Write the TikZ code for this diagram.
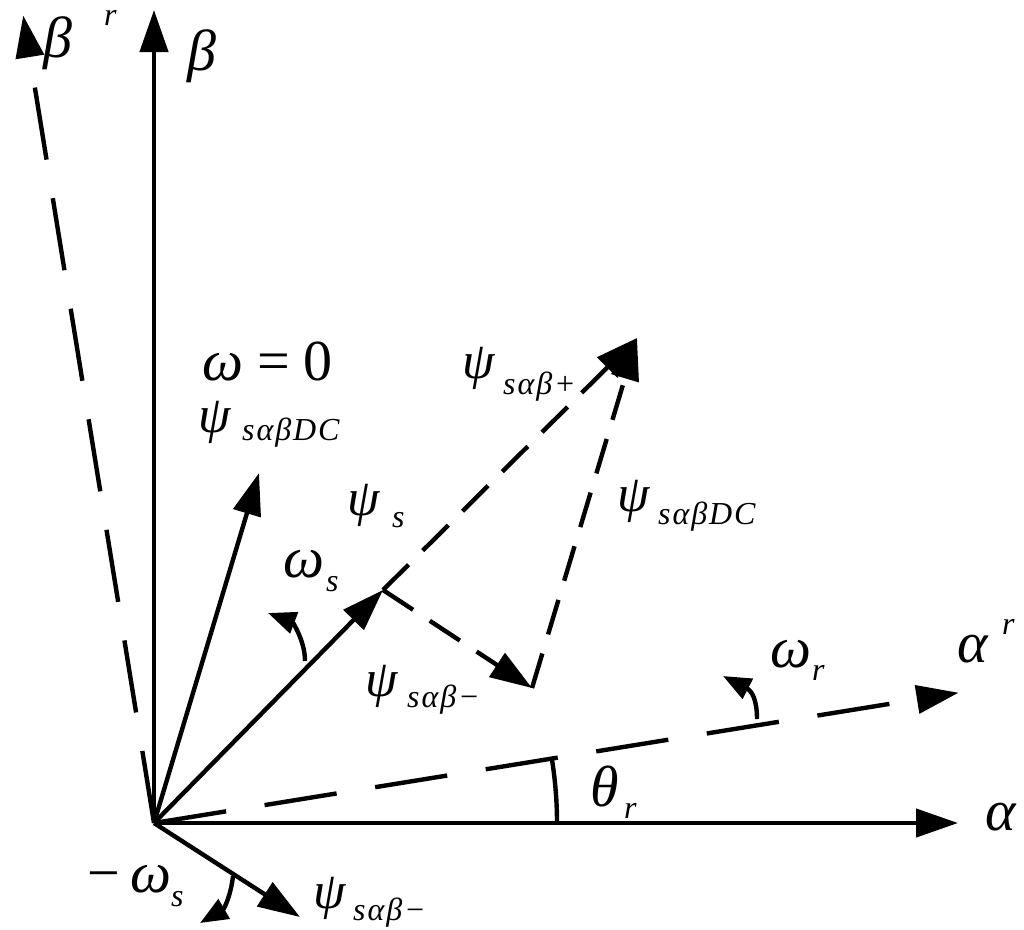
\documentclass[tikz,border=0pt]{standalone}
\usepackage{fontspec}
\setmainfont{Liberation Serif}
\usetikzlibrary{arrows.meta}
\newcommand\Gk[1]{{\fontsize{52}{52}\selectfont\itshape #1}}
\newcommand\Bg[1]{{\fontsize{58}{58}\selectfont\itshape #1}}
\newcommand\Sb[1]{{\fontsize{32}{32}\selectfont\itshape\addfontfeatures{LetterSpace=6} #1}}
\begin{document}
\begin{tikzpicture}[x=1pt,y=-1pt,
  ln/.style={line width=4.4pt},
  tip/.style={-{Triangle[length=42pt,width=28pt]}},
  smalltip/.style={-{Triangle[length=28pt,width=22pt]}},
  longdash/.style={dash pattern=on 73pt off 39pt},
  shortdash/.style={dash pattern=on 36pt off 20pt},
  lbl/.style={inner sep=0pt, anchor=base west}]
\useasboundingbox (0,0) rectangle (1024,929);
% points
\coordinate (O) at (154,823);
\coordinate (A) at (958,823);
\coordinate (B) at (154,10);
\coordinate (Ar) at (958.5,692.7);
\coordinate (Br) at (23.2,15.5);
\coordinate (P1) at (383,590);
\coordinate (P2) at (532,688);
\coordinate (P3) at (637,338);
\coordinate (D) at (259,473);
\coordinate (M) at (300,917);
\coordinate (T0) at (557,823);
\coordinate (W1) at (305,661);
\coordinate (W2) at (268,613);
\coordinate (R1) at (757,719);
\coordinate (R2) at (723,676);
\coordinate (N1) at (233,876);
\coordinate (N2) at (200,923);
% axes
\draw[ln,tip] (O) -- (A);
\draw[ln,tip] (O) -- (B);
\draw[ln,longdash,tip] (O) -- (Ar);
\draw[ln,longdash,tip] (O) -- (Br);
% vectors
\draw[ln,tip] (O) -- (P1);
\draw[ln,tip] (O) -- (D);
\draw[ln,tip] (O) -- (M);
\draw[ln,shortdash,tip] (P1) -- (P3);
\draw[ln,shortdash,tip] (P1) -- (P2);
\draw[ln,shortdash,tip] (P2) -- (P3);
% angle arcs
\draw[ln] (T0) arc[start angle=0, end angle=-9.2, radius=403];
\draw[ln,smalltip] (W1) .. controls (305,640) and (292,622) .. (W2);
\draw[ln,smalltip] (R1) .. controls (757,700) and (752,691) .. (R2);
\draw[ln,smalltip] (N1) .. controls (231,895) and (224,909) .. (N2);
% labels
\node[lbl] (bR) at (43,57) {\Bg{β}};
\node[lbl] (bRr) at (104,25) {\Sb{r}};
\node[lbl] (bL) at (187,70) {\Bg{β}};
\node[lbl] (aL) at (985,830) {\Bg{α}};
\node[lbl] (aR) at (957,662) {\Bg{α}};
\node[lbl] (aRr) at (1002,634) {\Sb{r}};
\node[lbl] (th) at (590,806) {\Bg{θ}};
\node[lbl] (thr) at (624,818) {\Sb{r}};
\node[lbl] (wr) at (770,667) {\Bg{ω}};
\node[lbl] (wrr) at (812,680) {\Sb{r}};
\node[lbl] (w0) at (202,380) {\Bg{ω}\hspace{14pt}{\fontsize{58}{58}\selectfont=\hspace{14pt}0}};
\node[lbl] (pdcA) at (198,432) {\Gk{ψ}};
\node[lbl] (pdcAs) at (242,440) {\Sb{sαβDC}};
\node[lbl] (ps) at (347,515) {\Gk{ψ}};
\node[lbl] (pss) at (392,527) {\Sb{s}};
\node[lbl] (ws) at (283,577) {\Bg{ω}};
\node[lbl] (wss) at (326,591) {\Sb{s}};
\node[lbl] (pp) at (462,378) {\Gk{ψ}};
\node[lbl] (pps) at (503,394) {\Sb{sαβ+}};
\node[lbl] (pdcB) at (617,511) {\Gk{ψ}};
\node[lbl] (pdcBs) at (658,524) {\Sb{sαβDC}};
\node[lbl] (pmA) at (365,696) {\Gk{ψ}};
\node[lbl] (pmAs) at (407,707) {\Sb{sαβ−}};
\node[lbl] (mws) at (87,892) {{\fontsize{58}{58}\selectfont −}};
\node[lbl] (mwsw) at (130,892) {\Bg{ω}};
\node[lbl] (mwss) at (171,906) {\Sb{s}};
\node[lbl] (pmB) at (313,908) {\Gk{ψ}};
\node[lbl] (pmBs) at (353,920) {\Sb{sαβ−}};
\end{tikzpicture}
\end{document}
